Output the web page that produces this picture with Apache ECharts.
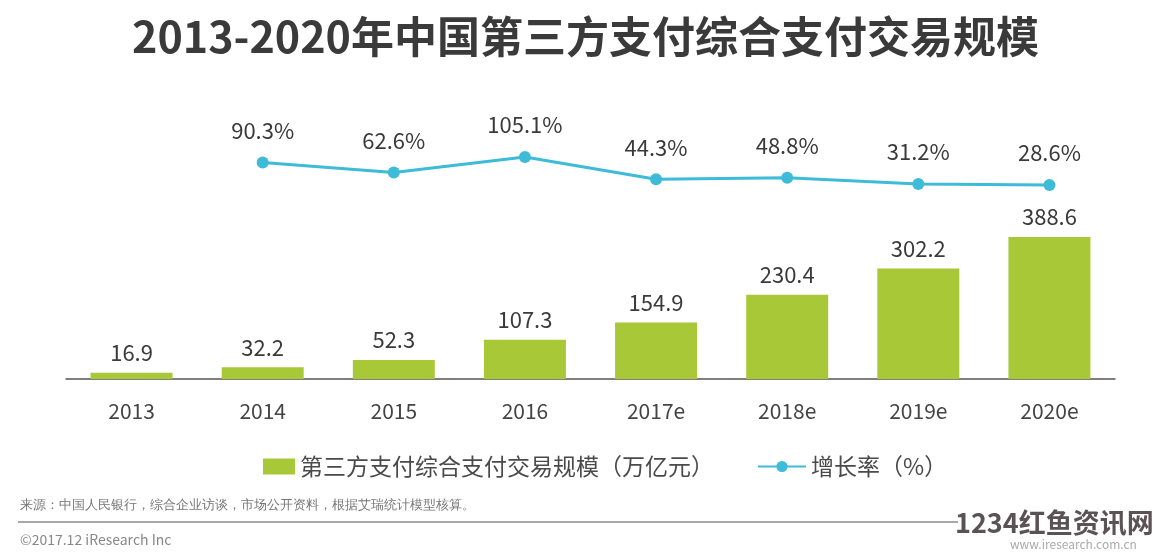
<!DOCTYPE html>
<html><head><meta charset="utf-8">
<script src="https://cdn.jsdelivr.net/npm/echarts@6/dist/echarts.min.js"></script>
<style>html,body{margin:0;padding:0;background:#fff}#c{width:1171px;height:553px}</style>
</head><body><div id="c"></div>
<script>
const categories = ['2013','2014','2015','2016','2017e','2018e','2019e','2020e'];
const scaleValues = [16.9, 32.2, 52.3, 107.3, 154.9, 230.4, 302.2, 388.6];
const growthRates = [null, 90.3, 62.6, 105.1, 44.3, 48.8, 31.2, 28.6];
const barName = '第三方支付综合支付交易规模（万亿元）';
const lineName = '增长率（%）';
const titleText = '2013-2020年中国第三方支付综合支付交易规模';
const sourceText = '来源：中国人民银行，综合企业访谈，市场公开资料，根据艾瑞统计模型核算。';
const copyrightText = '©2017.12 iResearch Inc';

const FONT = '"Noto Sans CJK SC", "Noto Sans", sans-serif';
const chart = echarts.init(document.getElementById('c'), null, {renderer: 'canvas'});
chart.setOption({
  backgroundColor: '#fff',
  animation: false,
  textStyle: {fontFamily: FONT},
  title: {
    text: titleText, left: 'center', top: 10,
    textStyle: {fontSize: 43, fontWeight: 'bold', color: '#3a3a3a', fontFamily: FONT}
  },
  legend: [
    {data: [barName], left: 258, top: 450, itemWidth: 32, itemHeight: 16, icon: 'rect',
     textStyle: {fontSize: 23, color: '#4a4a4a', fontFamily: FONT}},
    {data: [lineName], left: 752, top: 450, itemWidth: 48, itemHeight: 14,
     textStyle: {fontSize: 23, color: '#4a4a4a', fontFamily: FONT}}
  ],
  grid: [
    {left: 66, right: 56, top: 232.8, bottom: 174, containLabel: false},
    {left: 66, right: 56, top: 151.6, bottom: 357.5, containLabel: false}
  ],
  xAxis: [
    {type: 'category', gridIndex: 0, data: categories,
     axisLine: {lineStyle: {color: '#555', width: 1.5}},
     axisTick: {show: false},
     axisLabel: {fontSize: 21, color: '#444', margin: 22, fontFamily: FONT}},
    {type: 'category', gridIndex: 1, data: categories, show: false}
  ],
  yAxis: [
    {type: 'value', gridIndex: 0, min: 0, max: 400, show: false, splitLine: {show: false}},
    {type: 'value', gridIndex: 1, min: 0, max: 120, show: false, splitLine: {show: false}}
  ],
  series: [
    {name: barName, type: 'bar', xAxisIndex: 0, yAxisIndex: 0, data: scaleValues,
     barWidth: 82, itemStyle: {color: '#a8c838'},
     label: {show: true, position: 'top', distance: 9, fontSize: 22, color: '#3a3a3a', fontFamily: FONT}},
    {name: lineName, type: 'line', xAxisIndex: 1, yAxisIndex: 1, data: growthRates,
     symbol: 'circle', symbolSize: 12, clip: false,
     lineStyle: {color: '#3dbbd8', width: 3},
     itemStyle: {color: '#3dbbd8'},
     label: {show: true, position: 'top', distance: 15, fontSize: 22, color: '#3a3a3a', fontFamily: FONT,
       formatter: p => p.value + '%'}}
  ],
  graphic: [
    {type: 'text', left: 20, top: 499, style: {text: sourceText, fontSize: 13, fill: '#777', font: '13px ' + FONT}},
    {type: 'line', shape: {x1: 18, y1: 522, x2: 958, y2: 522}, style: {stroke: '#8a8a8a', lineWidth: 1.5}},
    {type: 'text', left: 20, top: 533, style: {text: copyrightText, fill: '#888', font: '14px ' + FONT}},
    {type: 'text', left: 955, top: 509, style: {text: '1234红鱼资讯网', fill: '#5a5254', font: 'bold 27px ' + FONT}},
    {type: 'text', left: 1010, top: 538, style: {text: 'www.iresearch.com.cn', fill: '#aaa', font: '12px ' + FONT}}
  ]
});
</script></body></html>
